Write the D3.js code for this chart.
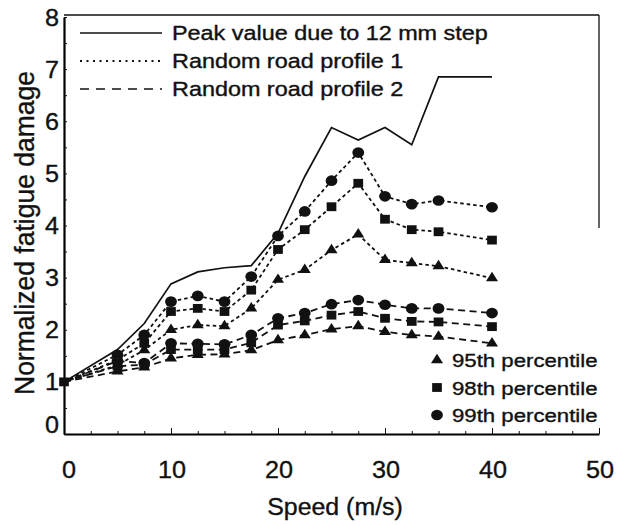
<!DOCTYPE html>
<html>
<head>
<meta charset="utf-8">
<script src="https://cdn.jsdelivr.net/npm/d3@7/dist/d3.min.js"></script>
<style>
  body { margin: 0; background: #fff; }
  svg { display: block; }
  text { font-family: "Liberation Sans", Arial, Helvetica, sans-serif; fill: #111; stroke: #111; stroke-width: 0.35; }
</style>
</head>
<body>
<svg id="chart" width="620" height="526"></svg>
<script>
// ---- data ----
const speeds    = [0, 5, 7.5, 10, 12.5, 15, 17.5, 20, 22.5, 25, 27.5, 30, 32.5, 35, 40];
const peakStep  = [1, 1.62, 2.12, 2.88, 3.11, 3.19, 3.23, 3.85, 4.94, 5.88, 5.64, 5.88, 5.55, 6.85, 6.85];
const road1P95  = [1, 1.32, 1.61, 2.00, 2.09, 2.07, 2.41, 2.96, 3.15, 3.53, 3.83, 3.34, 3.28, 3.22, 2.99];
const road1P98  = [1, 1.42, 1.74, 2.35, 2.41, 2.35, 2.76, 3.54, 3.92, 4.36, 4.81, 4.12, 3.92, 3.88, 3.72];
const road1P99  = [1, 1.52, 1.90, 2.54, 2.65, 2.54, 3.02, 3.80, 4.27, 4.86, 5.40, 4.56, 4.41, 4.48, 4.35];
const road2P95  = [1, 1.20, 1.28, 1.45, 1.52, 1.53, 1.61, 1.80, 1.90, 2.01, 2.07, 1.96, 1.90, 1.87, 1.74];
const road2P98  = [1, 1.30, 1.33, 1.62, 1.62, 1.62, 1.75, 2.09, 2.17, 2.28, 2.35, 2.22, 2.16, 2.15, 2.06];
const road2P99  = [1, 1.40, 1.36, 1.74, 1.73, 1.72, 1.90, 2.22, 2.32, 2.49, 2.57, 2.48, 2.41, 2.41, 2.32];

const xTickLabels = [0, 10, 20, 30, 40, 50];
const yTickLabels = [0, 1, 2, 3, 4, 5, 6, 7, 8];
const lineLegend  = ["Peak value due to 12 mm step", "Random road profile 1", "Random road profile 2"];
const markLegend  = ["95th percentile", "98th percentile", "99th percentile"];
const xTitle = "Speed (m/s)";
const yTitle = "Normalized fatigue damage";

// ---- layout ----
const svg = d3.select("#chart");
const x = d3.scaleLinear().domain([0, 50]).range([64, 599]);
const y = d3.scaleLinear().domain([0, 8]).range([434, 17]);

function stext(tx, ty, str, size, anchor, sx) {
  const g = svg.append("g").attr("transform", `translate(${tx},${ty}) scale(${sx},1)`);
  g.append("text").attr("x", 0).attr("y", 0)
    .attr("font-size", size).attr("text-anchor", anchor || "start").text(str);
  return g;
}

// frame
svg.append("line").attr("x1", x(0)).attr("x2", x(50)).attr("y1", 15).attr("y2", 15)
  .attr("stroke", "#111").attr("stroke-width", 1.3);
svg.append("line").attr("x1", x(50)).attr("x2", x(50)).attr("y1", 15).attr("y2", 228)
  .attr("stroke", "#111").attr("stroke-width", 1.3);

// axes with inward ticks
const xMinor = d3.range(0, 50.01, 2.5);
const xAxisG = svg.append("g").attr("transform", `translate(0,${y(0)})`)
  .call(d3.axisBottom(x).tickValues(xMinor).tickSize(-3).tickSizeOuter(0).tickFormat(""));
xAxisG.selectAll(".tick line").filter(d => d % 10 === 0).attr("y2", -6);
xAxisG.select(".domain").attr("stroke-width", 2.2);
xAxisG.selectAll("line").attr("stroke", "#111");

const yMinor = d3.range(0, 8.01, 0.5);
const yAxisG = svg.append("g").attr("transform", `translate(${x(0)},0)`)
  .call(d3.axisLeft(y).tickValues(yMinor).tickSize(-3).tickSizeOuter(0).tickFormat(""));
yAxisG.select(".domain").attr("stroke-width", 2.2);
yAxisG.selectAll("line").attr("stroke", "#111");

// tick labels
xTickLabels.forEach(v => stext(x(v) + (v === 0 ? 5 : 1), 478, String(v), 24, "middle", 1.05));
yTickLabels.forEach(v => stext(59, y(v) + 8.5 - (v === 0 ? 10 : 0), String(v), 24, "end", 1.05));

// titles
stext(335, 515, xTitle, 23.5, "middle", 1.06);
svg.append("g").attr("transform", `translate(34,233) scale(1.07,1) rotate(-90)`)
  .append("text").attr("font-size", 26.5).attr("text-anchor", "middle").text(yTitle);

// lines
const lineGen = d3.line().x(d => x(d[0])).y(d => y(d[1]));
const zip = arr => speeds.map((s, i) => [s, arr[i]]);

const dot1 = "3.5,3";
const dash2 = "7,4.5";

svg.append("path").attr("d", lineGen(zip(peakStep))).attr("fill", "none")
  .attr("stroke", "#111").attr("stroke-width", 1.7);

const series = [
  { v: road1P95, dash: dot1, m: "tri" },
  { v: road1P98, dash: dot1, m: "sq" },
  { v: road1P99, dash: dot1, m: "circ" },
  { v: road2P95, dash: dash2, m: "tri" },
  { v: road2P98, dash: dash2, m: "sq" },
  { v: road2P99, dash: dash2, m: "circ" }
];

series.forEach(s => {
  svg.append("path").attr("d", lineGen(zip(s.v))).attr("fill", "none")
    .attr("stroke", "#111").attr("stroke-width", 1.8).attr("stroke-dasharray", s.dash);
});

const symTri = d3.symbol().type(d3.symbolTriangle).size(52);
const symSq = d3.symbol().type(d3.symbolSquare).size(78);
const symCirc = d3.symbol().type(d3.symbolCircle).size(90);
const symFor = m => m === "tri" ? symTri : (m === "sq" ? symSq : symCirc);

function marker(px, py, m) {
  svg.append("path").attr("d", symFor(m)())
    .attr("transform", `translate(${px},${py}) scale(1.1,1)`).attr("fill", "#111");
}

series.forEach(s => {
  speeds.forEach((sp, i) => {
    if (i === 0) return;
    marker(x(sp), y(s.v[i]), s.m);
  });
});
// common start point (square)
marker(x(0), y(1), "sq");

// top legend
const legDash = [null, "2,4.5", "9,7"];
lineLegend.forEach((t, i) => {
  const ly = 33 + i * 28;
  const l = svg.append("line").attr("x1", 80).attr("x2", 162).attr("y1", ly).attr("y2", ly)
    .attr("stroke", "#111").attr("stroke-width", i === 1 ? 2 : 1.7);
  if (legDash[i]) l.attr("stroke-dasharray", legDash[i]);
  stext(172, ly + 7, t, 19.5, "start", 1.2);
});

// marker legend
const mk = ["tri", "sq", "circ"];
markLegend.forEach((t, i) => {
  const ly = 360 + i * 27.5;
  marker(437, ly, mk[i]);
  stext(452, ly + 7, t, 18.5, "start", 1.2);
});
</script>
</body>
</html>
